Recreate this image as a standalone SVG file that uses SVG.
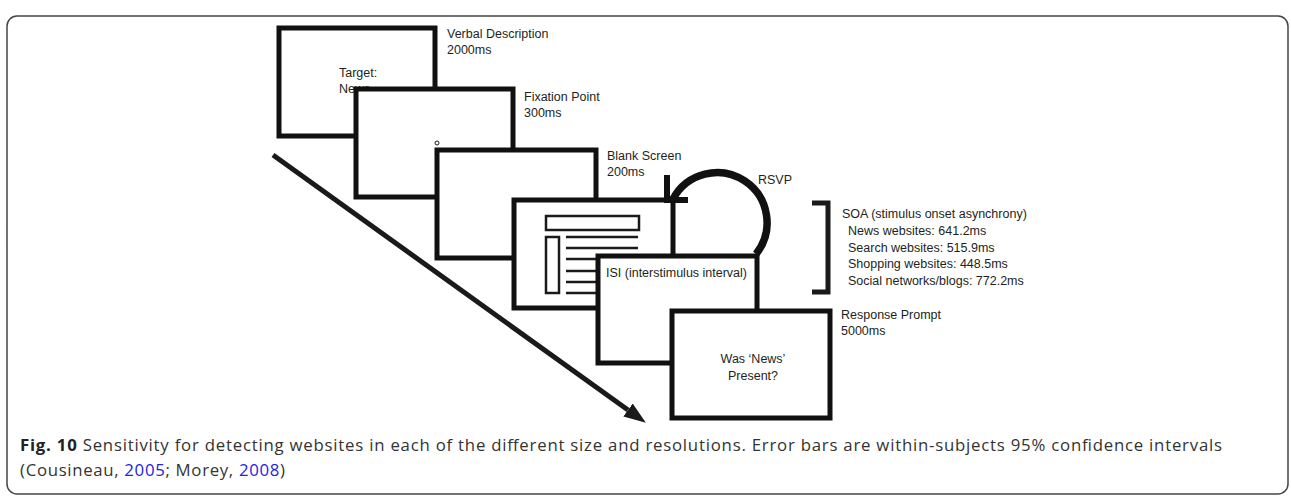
<svg xmlns="http://www.w3.org/2000/svg" width="1291" height="496" viewBox="0 0 1291 496">
  <defs>
    <style>
      .frame { fill: #ffffff; stroke: #111111; stroke-width: 5; }
      .thin { fill: #ffffff; stroke: #1a1a1a; stroke-width: 2.5; }
      .ln { stroke: #1a1a1a; stroke-width: 2.5; }
      .lbl { font-family: "Liberation Sans", Arial, sans-serif; font-size: 12.5px; fill: #231f20; }
      .ctr { text-anchor: middle; }
      .cap { font-family: "Open Sans", "Liberation Sans", sans-serif; font-size: 16.8px; fill: #333333; }
      .link { fill: #2323e0; }
    </style>
    <marker id="ahead" markerUnits="userSpaceOnUse" viewBox="0 0 22 16" refX="0" refY="8" markerWidth="22" markerHeight="16" orient="auto">
      <path d="M0,0 L22,8 L0,16 Z" fill="#1a1a1a"/>
    </marker>
  </defs>

  <rect id="border" x="7" y="16" width="1281" height="478" rx="10" ry="10" fill="none" stroke="#444444" stroke-width="1.5"/>

  <g id="frame-verbal">
    <rect class="frame" x="279" y="28" width="156" height="108"/>
    <text class="lbl" x="339" y="77">Target:</text>
    <text class="lbl" x="339" y="93">News</text>
    <text class="lbl" x="447" y="38">Verbal Description</text>
    <text class="lbl" x="447" y="54">2000ms</text>
  </g>

  <g id="frame-fixation">
    <rect class="frame" x="356" y="89" width="157" height="108"/>
    <circle cx="437" cy="143" r="2" fill="none" stroke="#1a1a1a" stroke-width="1"/>
    <text class="lbl" x="524" y="101">Fixation Point</text>
    <text class="lbl" x="524" y="117">300ms</text>
  </g>

  <g id="frame-blank">
    <rect class="frame" x="437" y="150" width="159" height="108"/>
    <text class="lbl" x="607" y="160">Blank Screen</text>
    <text class="lbl" x="607" y="176">200ms</text>
  </g>

  <g id="frame-stimulus">
    <rect class="frame" x="514" y="200" width="159" height="108"/>
    <rect class="thin" x="546" y="216" width="93" height="14"/>
    <rect class="thin" x="546" y="237" width="13" height="56"/>
    <line class="ln" x1="566" y1="237" x2="638" y2="237"/>
    <line class="ln" x1="566" y1="248" x2="638" y2="248"/>
    <line class="ln" x1="566" y1="259" x2="638" y2="259"/>
    <line class="ln" x1="566" y1="271" x2="638" y2="271"/>
    <line class="ln" x1="566" y1="282" x2="638" y2="282"/>
    <line class="ln" x1="566" y1="293" x2="638" y2="293"/>
  </g>

  <g id="frame-isi">
    <rect class="frame" x="598" y="256" width="159" height="107"/>
    <text class="lbl" x="606" y="277">ISI (interstimulus interval)</text>
  </g>

  <g id="frame-response">
    <rect class="frame" x="672" y="311" width="158" height="107"/>
    <text class="lbl ctr" x="753" y="363">Was ‘News’</text>
    <text class="lbl ctr" x="753" y="380">Present?</text>
    <text class="lbl" x="841" y="319">Response Prompt</text>
    <text class="lbl" x="841" y="335">5000ms</text>
  </g>

  <g id="soa">
    <path d="M812 203 H828 V292 H812" fill="none" stroke="#1a1a1a" stroke-width="5"/>
    <text class="lbl" x="842" y="218">SOA (stimulus onset asynchrony)</text>
    <text class="lbl" x="848" y="235">News websites: 641.2ms</text>
    <text class="lbl" x="848" y="252">Search websites: 515.9ms</text>
    <text class="lbl" x="848" y="268">Shopping websites: 448.5ms</text>
    <text class="lbl" x="848" y="285">Social networks/blogs: 772.2ms</text>
  </g>

  <g id="connectors">
    <line x1="273" y1="155" x2="628" y2="410" stroke="#1a1a1a" stroke-width="5" marker-end="url(#ahead)"/>
    <g id="rsvp-loop">
      <path d="M756 254 A50 50 0 1 0 673 199" fill="none" stroke="#111111" stroke-width="7.5"/>
      <path d="M667 175 V200 H688" fill="none" stroke="#111111" stroke-width="6"/>
      <text class="lbl" x="758" y="184">RSVP</text>
    </g>
  </g>

  <g id="caption">
    <text class="cap" x="20" y="451" textLength="1202" lengthAdjust="spacing"><tspan font-weight="bold" fill="#222222">Fig. 10</tspan> Sensitivity for detecting websites in each of the different size and resolutions. Error bars are within-subjects 95% confidence intervals</text>
    <text class="cap" x="20" y="476" textLength="265" lengthAdjust="spacing">(Cousineau, <tspan class="link">2005</tspan>; Morey, <tspan class="link">2008</tspan>)</text>
  </g>
</svg>
